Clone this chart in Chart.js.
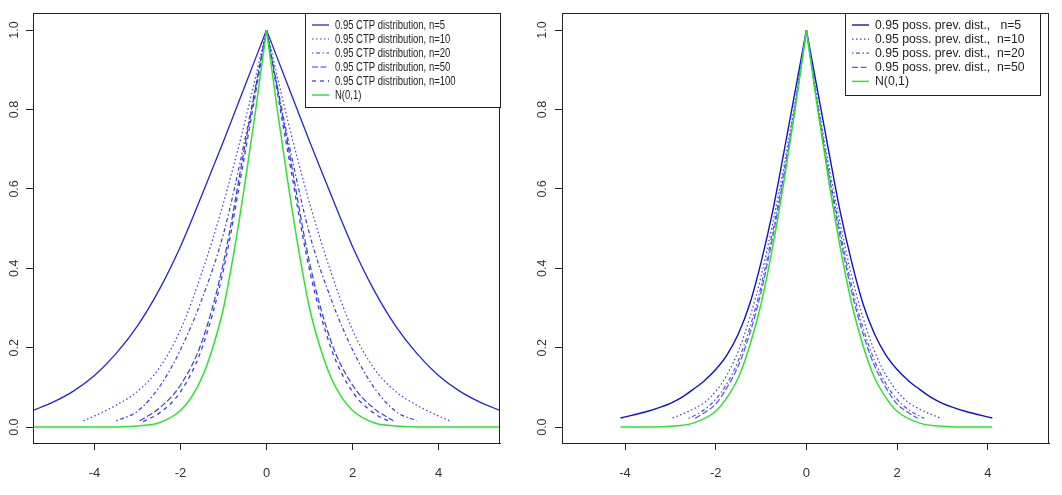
<!DOCTYPE html>
<html><head><meta charset="utf-8">
<script src="https://cdn.jsdelivr.net/npm/chart.js@4/dist/chart.umd.min.js"></script>
<style>
html,body{margin:0;padding:0;background:#fff;}
#wrap{position:relative;width:1062px;height:495px;overflow:hidden;}
canvas{position:absolute;top:0;}
</style></head><body>
<div id="wrap">
<canvas id="c1" width="531" height="495" style="left:0;width:531px;height:495px"></canvas>
<canvas id="c2" width="531" height="495" style="left:531px;width:531px;height:495px"></canvas>
</div>
<script>
// ---------- ticks ----------
const xTicks = [-4, -2, 0, 2, 4];
const yTicks = [0, 0.2, 0.4, 0.6, 0.8, 1.0];
const yTickLabels = ["0.0", "0.2", "0.4", "0.6", "0.8", "1.0"];

// ---------- left panel ----------
const leftLabels = ["0.95 CTP distribution, n=5", "0.95 CTP distribution, n=10", "0.95 CTP distribution, n=20",
  "0.95 CTP distribution, n=50", "0.95 CTP distribution, n=100", "N(0,1)"];
const ctp5X = [-5.43,-5,-4.5,-4,-3.5,-3,-2.5,-2,-1.5,-1,-0.5,0,0.5,1,1.5,2,2.5,3,3.5,4,4.5,5,5.43];
const ctp5Y = [0.042,0.061,0.09,0.13,0.185,0.255,0.345,0.455,0.585,0.72,0.86,1,0.86,0.72,0.585,0.455,0.345,0.255,0.185,0.13,0.09,0.061,0.042];
const ctp10X = [-4.26,-4,-3.5,-3,-2.5,-2,-1.5,-1,-0.5,0,0.5,1,1.5,2,2.5,3,3.5,4,4.26];
const ctp10Y = [0.016,0.028,0.055,0.09,0.148,0.245,0.39,0.565,0.77,1,0.77,0.565,0.39,0.245,0.148,0.09,0.055,0.028,0.016];
const ctp20X = [-3.49,-3,-2.5,-2,-1.5,-1,-0.5,0,0.5,1,1.5,2,2.5,3,3.49];
const ctp20Y = [0.016,0.04,0.1,0.195,0.323,0.487,0.725,1,0.725,0.487,0.323,0.195,0.1,0.04,0.016];
const ctp50X = [-2.95,-2.5,-2,-1.5,-1,-0.5,0,0.5,1,1.5,2,2.5,2.95];
const ctp50Y = [0.016,0.047,0.106,0.216,0.415,0.71,1,0.71,0.415,0.216,0.106,0.047,0.016];
const ctp100X = [-2.87,-2.5,-2,-1.5,-1,-0.5,0,0.5,1,1.5,2,2.5,2.87];
const ctp100Y = [0.014,0.035,0.089,0.199,0.396,0.69,1,0.69,0.396,0.199,0.089,0.035,0.014];
const normLX = [-5.43,-4,-3.5,-3,-2.5,-2,-1.75,-1.5,-1.25,-1,-0.75,-0.5,-0.25,0,0.25,0.5,0.75,1,1.25,1.5,1.75,2,2.5,3,3.5,4,5.43];
const normLY = [0,0.0001,0.0005,0.003,0.011,0.042,0.075,0.125,0.2,0.3,0.445,0.615,0.8,1,0.8,0.615,0.445,0.3,0.2,0.125,0.075,0.042,0.011,0.003,0.0005,0.0001,0];

// ---------- right panel ----------
const rightLabels = ["0.95 poss. prev. dist.,   n=5", "0.95 poss. prev. dist.,  n=10", "0.95 poss. prev. dist.,  n=20",
  "0.95 poss. prev. dist.,  n=50", "N(0,1)"];
const ppd5X = [-4.1,-3.5,-3,-2.75,-2.5,-2.25,-2,-1.75,-1.5,-1.25,-1,-0.75,-0.5,-0.25,0,0.25,0.5,0.75,1,1.25,1.5,1.75,2,2.25,2.5,2.75,3,3.5,4.1];
const ppd5Y = [0.023,0.04,0.06,0.075,0.095,0.117,0.145,0.182,0.235,0.31,0.415,0.54,0.69,0.845,1,0.845,0.69,0.54,0.415,0.31,0.235,0.182,0.145,0.117,0.095,0.075,0.06,0.04,0.023];
const ppd10X = [-2.95,-2.5,-2.25,-2,-1.75,-1.5,-1.25,-1,-0.75,-0.5,-0.25,0,0.25,0.5,0.75,1,1.25,1.5,1.75,2,2.25,2.5,2.95];
const ppd10Y = [0.023,0.045,0.062,0.09,0.132,0.192,0.275,0.38,0.51,0.655,0.82,1,0.82,0.655,0.51,0.38,0.275,0.192,0.132,0.09,0.062,0.045,0.023];
const ppd20X = [-2.6,-2.3,-2,-1.75,-1.5,-1.25,-1,-0.75,-0.5,-0.25,0,0.25,0.5,0.75,1,1.25,1.5,1.75,2,2.3,2.6];
const ppd20Y = [0.022,0.04,0.07,0.11,0.168,0.25,0.355,0.49,0.64,0.81,1,0.81,0.64,0.49,0.355,0.25,0.168,0.11,0.07,0.04,0.022];
const ppd50X = [-2.45,-2.2,-2,-1.75,-1.5,-1.25,-1,-0.75,-0.5,-0.25,0,0.25,0.5,0.75,1,1.25,1.5,1.75,2,2.2,2.45];
const ppd50Y = [0.022,0.04,0.058,0.1,0.155,0.235,0.34,0.475,0.63,0.805,1,0.805,0.63,0.475,0.34,0.235,0.155,0.1,0.058,0.04,0.022];
const normRX = [-4.1,-3.5,-3,-2.5,-2,-1.75,-1.5,-1.25,-1,-0.75,-0.5,-0.25,0,0.25,0.5,0.75,1,1.25,1.5,1.75,2,2.5,3,3.5,4.1];
const normRY = [0,0.0004,0.002,0.01,0.04,0.075,0.125,0.205,0.31,0.45,0.615,0.8,1,0.8,0.615,0.45,0.31,0.205,0.125,0.075,0.04,0.01,0.002,0.0004,0];

// ---------- styles ----------
const BLUE_SOLID = '#2323dc';
const BLUE_DOT = '#3a3ae6';
const GREEN = '#2fe22f';
const DOTTED = [1.5, 2.5], DOTDASH = [1.5, 2.5, 4, 2.5], LONGDASH = [6, 2.5], DASHED = [4, 4];

const leftSeries = [
  {xs: ctp5X, ys: ctp5Y, color: BLUE_SOLID, width: 1.3, dash: []},
  {xs: ctp10X, ys: ctp10Y, color: BLUE_DOT, width: 1.2, dash: DOTTED},
  {xs: ctp20X, ys: ctp20Y, color: BLUE_DOT, width: 1.2, dash: DOTDASH},
  {xs: ctp50X, ys: ctp50Y, color: BLUE_DOT, width: 1.2, dash: LONGDASH},
  {xs: ctp100X, ys: ctp100Y, color: BLUE_DOT, width: 1.3, dash: DASHED},
  {xs: normLX, ys: normLY, color: GREEN, width: 1.5, dash: []}
];
leftSeries.forEach((s, i) => s.label = leftLabels[i]);
const rightSeries = [
  {xs: ppd5X, ys: ppd5Y, color: '#1010d0', width: 1.4, dash: []},
  {xs: ppd10X, ys: ppd10Y, color: BLUE_DOT, width: 1.2, dash: DOTTED},
  {xs: ppd20X, ys: ppd20Y, color: '#5050ea', width: 1.2, dash: DOTDASH},
  {xs: ppd50X, ys: ppd50Y, color: '#5a5ae8', width: 1.3, dash: LONGDASH},
  {xs: normRX, ys: normRY, color: GREEN, width: 1.5, dash: []}
];
rightSeries.forEach((s, i) => s.label = rightLabels[i]);

function buildDatasets(series) {
  const ds = [];
  const n = series.length;
  series.forEach((s, i) => {
    const pts = s.xs.map((x, k) => ({x: x, y: s.ys[k]}));
    const halves = [pts.filter(p => p.x <= 0), pts.filter(p => p.x >= 0)];
    halves.forEach(h => ds.push({
      label: s.label, data: h, borderColor: s.color, borderWidth: s.width, borderDash: s.dash,
      pointRadius: 0, fill: false, cubicInterpolationMode: 'monotone', order: n - i
    }));
  });
  return ds;
}

const FONT = 'Liberation Sans, Arial, Helvetica, sans-serif';

function framePlugin(cfg) {
  return {
    id: 'frame',
    afterDraw(chart) {
      const ctx = chart.ctx, a = chart.chartArea;
      ctx.save();
      ctx.strokeStyle = '#222'; ctx.lineWidth = 1;
      ctx.strokeRect(Math.round(a.left) + 0.5, Math.round(a.top) + 0.5,
        Math.round(a.right - a.left) - 1, Math.round(a.bottom - a.top));
      const ys = chart.scales.y;
      ctx.fillStyle = '#333';
      ctx.font = '12.5px ' + FONT;
      ctx.textAlign = 'center'; ctx.textBaseline = 'middle';
      yTicks.forEach((v, i) => {
        const py = ys.getPixelForValue(v);
        ctx.save();
        ctx.translate(a.left - cfg.yLabelOff, py);
        ctx.rotate(-Math.PI / 2);
        ctx.fillText(yTickLabels[i], 0, 0);
        ctx.restore();
      });
      const L = cfg.legend;
      ctx.fillStyle = '#fff';
      ctx.fillRect(L.x, L.y, L.w, L.h);
      ctx.strokeStyle = '#222'; ctx.lineWidth = 1;
      ctx.strokeRect(L.x + 0.5, L.y + 0.5, L.w, L.h);
      cfg.series.forEach((s, i) => {
        const ry = L.row0 + i * L.step;
        ctx.save();
        ctx.strokeStyle = s.color; ctx.lineWidth = s.width; ctx.setLineDash(s.dash);
        ctx.beginPath(); ctx.moveTo(L.lx1, ry); ctx.lineTo(L.lx2, ry); ctx.stroke();
        ctx.restore();
        ctx.save();
        ctx.fillStyle = '#222';
        ctx.font = L.font + 'px ' + FONT;
        ctx.textAlign = 'left'; ctx.textBaseline = 'middle';
        ctx.translate(L.tx, ry);
        ctx.scale(L.hs, 1);
        ctx.fillText(s.label, 0, 0);
        ctx.restore();
      });
      ctx.restore();
    }
  };
}

function makeChart(id, series, xr, pad, cfg) {
  return new Chart(document.getElementById(id), {
    type: 'line',
    data: {datasets: buildDatasets(series)},
    options: {
      responsive: false, animation: false, events: [],
      layout: {padding: {top: pad.top, right: pad.right, left: 0, bottom: 0}},
      plugins: {legend: {display: false}, tooltip: {enabled: false}},
      scales: {
        x: {
          type: 'linear', min: xr[0], max: xr[1],
          afterBuildTicks: s => { s.ticks = xTicks.map(v => ({value: v})); },
          afterFit: s => { s.height = pad.xh; },
          grid: {display: true, drawOnChartArea: false, drawTicks: true, tickLength: 7, color: '#222', lineWidth: 1},
          border: {display: true, color: '#222', width: 1},
          ticks: {color: '#333', font: {family: FONT, size: 13}, padding: 16, maxRotation: 0, autoSkip: false}
        },
        y: {
          type: 'linear', min: -0.04, max: 1.043,
          afterBuildTicks: s => { s.ticks = yTicks.map(v => ({value: v})); },
          afterFit: s => { s.width = pad.yw; },
          grid: {display: true, drawOnChartArea: false, drawTicks: true, tickLength: 7, color: '#222', lineWidth: 1},
          border: {display: true, color: '#222', width: 1},
          ticks: {display: false}
        }
      }
    },
    plugins: [framePlugin(cfg)]
  });
}

makeChart('c1', leftSeries, [-5.43, 5.43], {top: 13, right: 31, xh: 52, yw: 33}, {
  series: leftSeries, yLabelOff: 18,
  legend: {x: 305, y: 13, w: 195, h: 94, row0: 25, step: 14, lx1: 312, lx2: 329, tx: 335, hs: 0.73, font: 13}
});
makeChart('c2', rightSeries, [-5.39, 5.35], {top: 13, right: 13, xh: 52, yw: 31}, {
  series: rightSeries, yLabelOff: 19,
  legend: {x: 314, y: 13, w: 195, h: 82, row0: 25, step: 14.1, lx1: 321, lx2: 338, tx: 344, hs: 0.94, font: 13}
});
</script>
</body></html>
